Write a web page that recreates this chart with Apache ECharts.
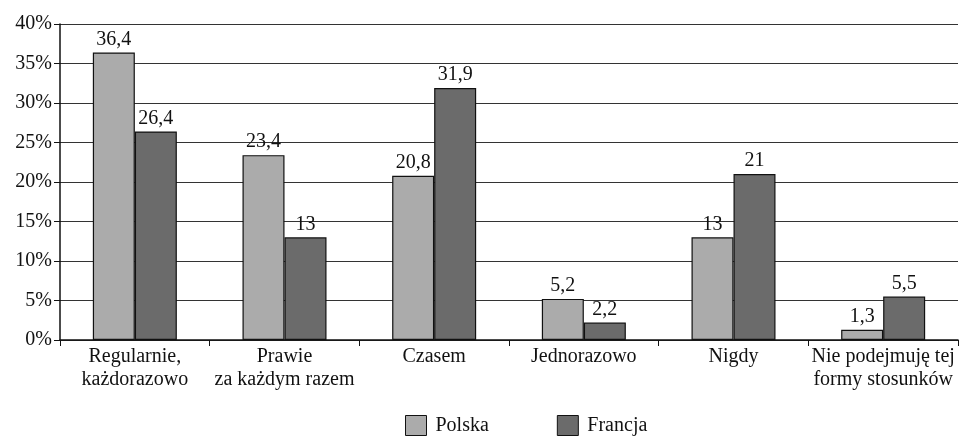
<!DOCTYPE html>
<html>
<head>
<meta charset="utf-8">
<script src="https://cdn.jsdelivr.net/npm/echarts@6/dist/echarts.min.js"></script>
<style>
  html, body { margin: 0; padding: 0; background: #fff; }
  #chart { width: 964px; height: 437px; }
</style>
</head>
<body>
<div id="chart"></div>
<script>
const categories = [
  'Regularnie,\nkażdorazowo',
  'Prawie\nza każdym razem',
  'Czasem',
  'Jednorazowo',
  'Nigdy',
  'Nie podejmuję tej\nformy stosunków',
];
const polska = [36.4, 23.4, 20.8, 5.2, 13, 1.3];
const francja = [26.4, 13, 31.9, 2.2, 21, 5.5];
const yTicks = { min: 0, max: 40, interval: 5 };

const font = '"Liberation Serif", "DejaVu Serif", serif';
const fontSize = 20;
const chart = echarts.init(document.getElementById('chart'));

const label = {
  show: true,
  position: 'top',
  distance: 3,
  color: '#111',
  fontFamily: font,
  fontSize: fontSize,
  formatter: (p) => String(p.value).replace('.', ','),
};

chart.setOption({
  animation: false,
  textStyle: { fontFamily: font },
  grid: { left: 60, right: 6, top: 24, bottom: 97 },
  legend: {
    top: 410,
    left: 400,
    icon: 'rect',
    itemWidth: 21,
    itemHeight: 20,
    itemGap: 68,
    itemStyle: { borderColor: '#111', borderWidth: 1 },
    textStyle: { fontFamily: font, fontSize: fontSize, color: '#111', padding: [0, 0, 0, 4] },
    data: ['Polska', 'Francja'],
  },
  xAxis: {
    type: 'category',
    data: categories,
    axisLine: { lineStyle: { color: '#111', width: 1.5 } },
    axisTick: { show: true, length: 6, lineStyle: { color: '#111' } },
    axisLabel: {
      color: '#111',
      fontFamily: font,
      fontSize: fontSize,
      lineHeight: 23,
      margin: 5,
      interval: 0,
    },
  },
  yAxis: {
    type: 'value',
    min: yTicks.min,
    max: yTicks.max,
    interval: yTicks.interval,
    axisLine: { show: true, lineStyle: { color: '#111', width: 1.5 } },
    axisTick: { show: true, length: 6, lineStyle: { color: '#111' } },
    axisLabel: {
      color: '#111',
      fontFamily: font,
      fontSize: fontSize,
      margin: 8,
      formatter: '{value}%',
    },
    splitLine: { lineStyle: { color: '#333', width: 1.2 } },
  },
  series: [
    {
      name: 'Polska',
      type: 'bar',
      data: polska,
      barWidth: 42,
      barGap: '0%',
      itemStyle: { color: '#ababab', borderColor: '#111', borderWidth: 1.2 },
      label,
    },
    {
      name: 'Francja',
      type: 'bar',
      data: francja,
      barWidth: 42,
      barGap: '0%',
      itemStyle: { color: '#6b6b6b', borderColor: '#111', borderWidth: 1.2 },
      label,
    },
  ],
});
</script>
</body>
</html>
